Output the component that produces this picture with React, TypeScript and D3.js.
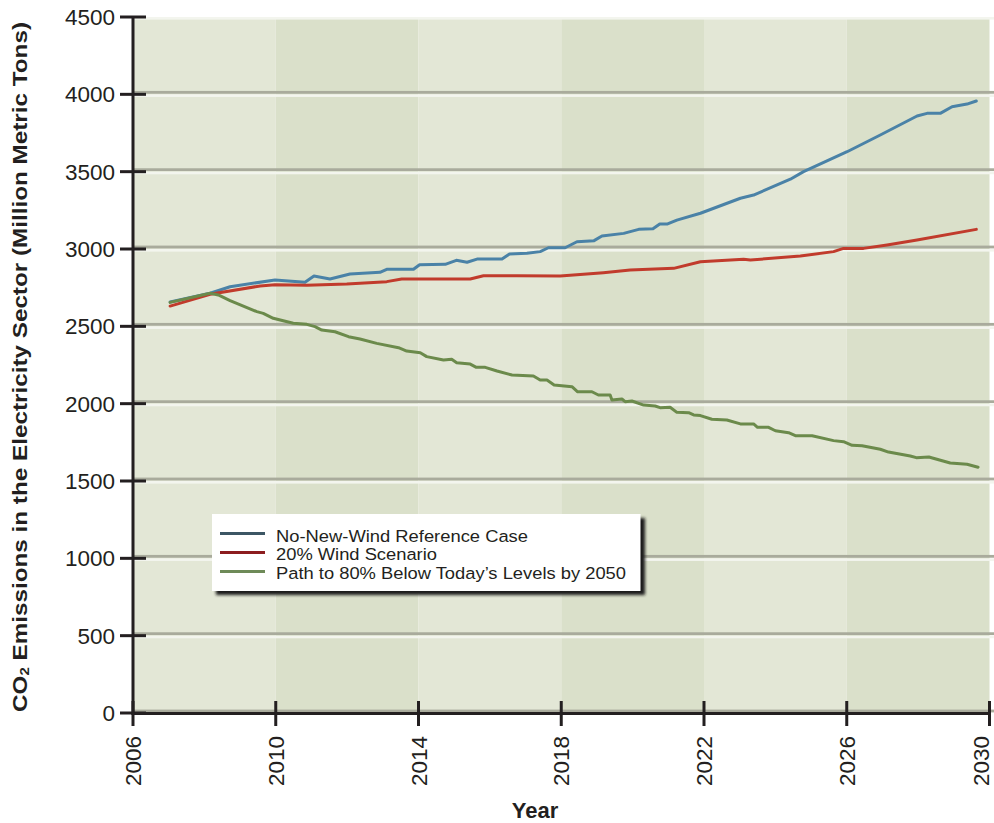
import React from "react";
import * as d3 from "d3";

const refYears = [2007.04, 2008.16, 2008.72, 2009.98, 2010.82, 2011.07, 2011.52, 2012.08, 2012.92, 2013.11, 2013.86, 2014.03, 2014.75, 2015.06, 2015.36, 2015.64, 2016.34, 2016.55, 2017.04, 2017.41, 2017.64, 2018.11, 2018.44, 2018.92, 2019.14, 2019.75, 2020.17, 2020.57, 2020.76, 2020.98, 2021.24, 2021.9, 2023.02, 2023.39, 2024.42, 2024.79, 2026.01, 2026.94, 2027.97, 2028.25, 2028.62, 2028.95, 2029.37, 2029.63];
const refValues = [2657, 2714, 2756, 2800, 2785, 2825, 2806, 2838, 2849, 2869, 2869, 2898, 2901, 2927, 2914, 2935, 2935, 2968, 2972, 2983, 3008, 3008, 3047, 3054, 3084, 3101, 3127, 3131, 3162, 3162, 3187, 3231, 3328, 3349, 3451, 3500, 3629, 3737, 3860, 3877, 3877, 3920, 3937, 3957];

const windYears = [2007.04, 2008.16, 2009.56, 2009.98, 2010.87, 2011.99, 2013.11, 2013.53, 2015.45, 2015.82, 2016.76, 2017.97, 2019.18, 2019.93, 2021.15, 2021.9, 2023.11, 2023.3, 2024.7, 2025.63, 2025.91, 2026.47, 2027.13, 2027.97, 2029.63];
const windValues = [2631, 2707, 2761, 2769, 2765, 2774, 2789, 2806, 2806, 2827, 2827, 2825, 2847, 2864, 2875, 2918, 2933, 2929, 2955, 2983, 3004, 3004, 3026, 3058, 3127];

const pathYears = [2007.04, 2008.16, 2008.39, 2008.72, 2009.47, 2009.65, 2009.93, 2010.49, 2010.87, 2011.1, 2011.29, 2011.66, 2012.04, 2012.36, 2012.83, 2013.44, 2013.67, 2014.05, 2014.23, 2014.7, 2014.93, 2015.07, 2015.45, 2015.62, 2015.87, 2016.2, 2016.62, 2017.22, 2017.41, 2017.6, 2017.8, 2018.3, 2018.46, 2018.86, 2019.04, 2019.37, 2019.42, 2019.7, 2019.79, 2019.98, 2020.31, 2020.63, 2020.77, 2021.05, 2021.24, 2021.57, 2021.71, 2021.9, 2022.22, 2022.64, 2023.02, 2023.39, 2023.5, 2023.81, 2024.0, 2024.37, 2024.56, 2025.03, 2025.63, 2025.91, 2026.15, 2026.43, 2026.94, 2027.17, 2027.78, 2027.95, 2028.3, 2028.9, 2029.37, 2029.68];
const pathValues = [2655, 2714, 2703, 2666, 2595, 2584, 2552, 2520, 2513, 2498, 2476, 2465, 2433, 2418, 2390, 2362, 2340, 2329, 2304, 2282, 2287, 2265, 2256, 2235, 2235, 2211, 2185, 2179, 2153, 2153, 2121, 2110, 2077, 2077, 2056, 2056, 2024, 2030, 2013, 2017, 1991, 1985, 1974, 1977, 1944, 1942, 1927, 1923, 1899, 1894, 1869, 1869, 1847, 1847, 1825, 1812, 1793, 1793, 1761, 1754, 1731, 1728, 1705, 1687, 1662, 1651, 1655, 1616, 1608, 1589];

const xTicks = [2006, 2010, 2014, 2018, 2022, 2026, 2030];
const yTicks = [0, 500, 1000, 1500, 2000, 2500, 3000, 3500, 4000, 4500];

const seriesNames = [
  "No-New-Wind Reference Case",
  "20% Wind Scenario",
  "Path to 80% Below Today\u2019s Levels by 2050",
];

const W = 994;
const H = 823;
const X0 = 133;
const X1 = 989.5;
const Y0 = 713;
const Y1 = 17;

export default function App() {
  const x = d3.scaleLinear().domain([2006, 2030]).range([X0, X1]);
  const y = d3.scaleLinear().domain([0, 4500]).range([Y0, Y1]);
  const line = d3
    .line<[number, number]>()
    .x((d) => x(d[0]))
    .y((d) => y(d[1]));

  const series = [
    { name: seriesNames[0], years: refYears, values: refValues, color: "#4a82a7", legend: "#3c5664", tl: 252 },
    { name: seriesNames[1], years: windYears, values: windValues, color: "#c13b2c", legend: "#8c1d1f", tl: 161 },
    { name: seriesNames[2], years: pathYears, values: pathValues, color: "#6b8a4b", legend: "#6e8a58", tl: 350 },
  ];

  const bands = d3.range(2006, 2030, 4);
  const font = "'Liberation Sans', Arial, Helvetica, sans-serif";

  return (
    <svg
      width={W}
      height={H}
      style={{ position: "absolute", left: 0, top: 0, background: "#fff" }}
      fontFamily={font}
    >
      <defs>
        <filter id="shadow" x="-10%" y="-20%" width="130%" height="160%">
          <feGaussianBlur stdDeviation="1.6" />
        </filter>
      </defs>
      {bands.map((b, i) => (
        <rect
          key={b}
          x={x(b)}
          y={Y1}
          width={x(b + 4) - x(b)}
          height={Y0 - Y1}
          fill={i % 2 === 0 ? "#e3e7d6" : "#dae0ca"}
        />
      ))}
      {yTicks.map((t) => (
        <g key={t}>
          {t < 4500 && (
            <rect x={X0} y={y(t) - 3.4} width={W - X0} height={2.8} fill="#a9ab9c" />
          )}
          {t > 0 && (
            <rect x={X0} y={y(t)} width={W - X0} height={2.6} fill="#f3f5ee" />
          )}
        </g>
      ))}
      {series.map((s) => (
        <path
          key={s.name}
          d={line(s.years.map((yr, i) => [yr, s.values[i]] as [number, number])) || ""}
          fill="none"
          stroke={s.color}
          strokeWidth={3}
          strokeLinejoin="round"
          strokeLinecap="round"
        />
      ))}
      {/* axes */}
      <line x1={X0} x2={X0} y1={Y1 - 1} y2={Y0 + 1.5} stroke="#231f20" strokeWidth={3} />
      <line x1={X0 - 1.5} x2={X1 + 1.5} y1={Y0 + 0.5} y2={Y0 + 0.5} stroke="#231f20" strokeWidth={3} />
      {yTicks.map((t) => (
        <g key={"yt" + t}>
          <line x1={120} x2={146} y1={y(t)} y2={y(t)} stroke="#231f20" strokeWidth={3} />
          <text
            x={115}
            y={y(t)}
            dy="0.36em"
            textAnchor="end"
            fontSize={22.5}
            fill="#231f20"
          >
            {t}
          </text>
        </g>
      ))}
      {xTicks.map((t) => (
        <g key={"xt" + t}>
          <line x1={x(t)} x2={x(t)} y1={701} y2={726} stroke="#231f20" strokeWidth={3} />
          <text
            transform={`translate(${Math.min(x(t), W - 13)},736) rotate(-90)`}
            dy="0.36em"
            textAnchor="end"
            fontSize={22.5}
            fill="#231f20"
          >
            {t}
          </text>
        </g>
      ))}
      <text x={535} y={818} textAnchor="middle" fontSize={22} fontWeight="bold" fill="#231f20">
        Year
      </text>
      <text
        transform={`translate(27,367) rotate(-90)`}
        textAnchor="middle"
        fontSize={21}
        fontWeight="bold"
        fill="#231f20"
        textLength={690}
        lengthAdjust="spacingAndGlyphs"
      >
        CO<tspan fontSize={13} dy={2}>2</tspan>
        <tspan dy={-2}> Emissions in the Electricity Sector (Million Metric Tons)</tspan>
      </text>
      {/* legend */}
      <rect x={216} y={518} width={429} height={77} fill="#1e1e1e" filter="url(#shadow)" />
      <rect x={212} y={514} width={428.5} height={77} fill="#ffffff" />
      {series.map((s, i) => (
        <g key={"lg" + i}>
          <line
            x1={220}
            x2={265}
            y1={533.5 + i * 19}
            y2={533.5 + i * 19}
            stroke={s.legend}
            strokeWidth={3}
          />
          <text
            x={276}
            y={541.5 + i * 18.6}
            fontSize={16.8}
            fill="#231f20"
            textLength={s.tl}
            lengthAdjust="spacingAndGlyphs"
          >
            {s.name}
          </text>
        </g>
      ))}
    </svg>
  );
}
